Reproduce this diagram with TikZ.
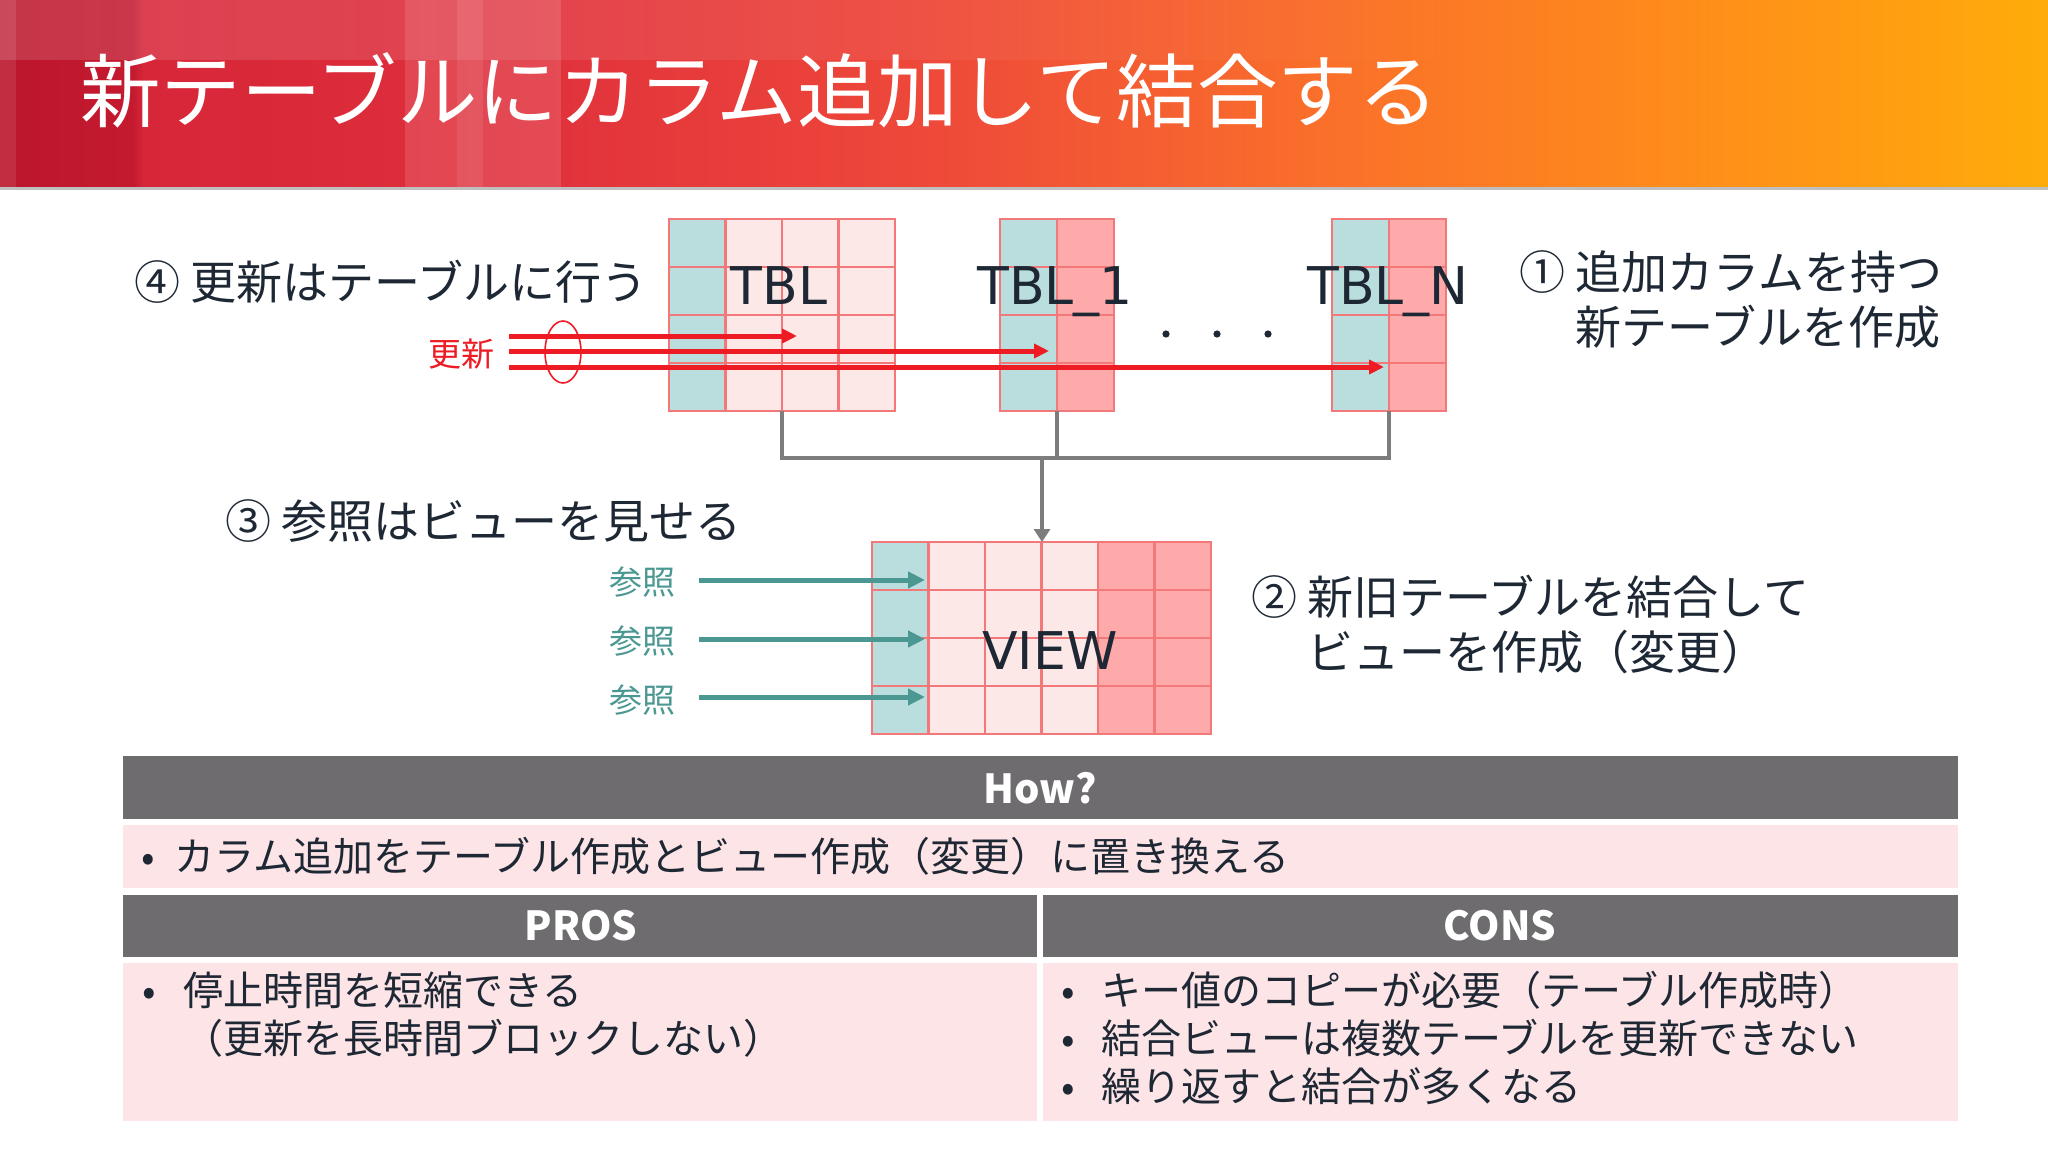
\documentclass[tikz,border=0pt]{standalone}
\usepackage{fontspec}
\setmainfont{Noto Sans CJK JP}
\newfontfamily\latf{DejaVu Sans}
\usetikzlibrary{arrows.meta,calc,shapes.geometric,fadings}
\definecolor{txt}{RGB}{30,40,52}
\definecolor{tealc}{RGB}{186,222,221}
\definecolor{pinkl}{RGB}{253,232,232}
\definecolor{pinkm}{RGB}{255,170,170}
\definecolor{gridc}{RGB}{243,120,122}
\definecolor{tblbg}{RGB}{253,228,230}
\definecolor{hdr}{RGB}{110,108,111}
\definecolor{redc}{RGB}{237,28,36}
\definecolor{tealt}{RGB}{75,152,147}
\definecolor{grayc}{RGB}{125,125,125}
\definecolor{tg0}{RGB}{188,22,44}
\definecolor{tg1}{RGB}{196,26,48}
\definecolor{tg2}{RGB}{214,38,56}
\definecolor{tg3}{RGB}{224,48,60}
\definecolor{tg4}{RGB}{238,72,58}
\definecolor{tg5}{RGB}{250,112,42}
\definecolor{tg6}{RGB}{255,145,24}
\definecolor{tg7}{RGB}{255,172,10}
\pgfdeclarehorizontalshading{titlegrad}{100bp}{color(0bp)=(tg0); color(25bp)=(tg0); color(28.25bp)=(tg1); color(28.5bp)=(tg2); color(37.5bp)=(tg3); color(47.5bp)=(tg4); color(57.5bp)=(tg5); color(67.5bp)=(tg6); color(75bp)=(tg7); color(100bp)=(tg7)}
\tikzset{
  box/.style={inner sep=0pt, outer sep=0pt, draw=none},
  gridln/.style={draw=gridc, line width=2.5pt},
  lbl/.style={text=txt, inner sep=0pt, font=\fontsize{46}{55}\selectfont},
  lat/.style={text=txt, inner sep=0pt, anchor=base, font=\latf\fontsize{52}{60}\selectfont},
  small/.style={inner sep=0pt, font=\fontsize{33}{40}\selectfont},
  tb/.style={text=txt, inner sep=0pt, font=\fontsize{40}{47.5}\selectfont},
  hd/.style={text=white, inner sep=0pt, font=\bfseries\fontsize{40}{48}\selectfont},
  conn/.style={draw=grayc, line width=4pt},
  redarr/.style={draw=redc, line width=5pt, -{Triangle[length=15pt,width=14pt]}},
  tealarr/.style={draw=tealt, line width=5pt, -{Triangle[length=17pt,width=16pt]}}
}
\begin{document}
\begin{tikzpicture}[x=1pt,y=-1pt]
\useasboundingbox (0,0) rectangle (2048,1152);
\fill[white] (0,0) rectangle (2048,1152);
% title bar
\shade[shading=titlegrad] (0,0) rectangle (2048,187);
\fill[white, fill opacity=0.14, path fading=east] (0,0) rectangle (1500,60);
\fill[white, fill opacity=0.12] (405,0) rectangle (561,187);
\fill[white, fill opacity=0.08] (457,0) rectangle (483,187);
\fill[white, fill opacity=0.10] (0,0) rectangle (16,187);
\fill[black!25] (0,187) rectangle (2048,190);
\node[box, anchor=west, text=white, font=\fontsize{80.5}{80}\selectfont] (title) at (80,90) {新テーブルにカラム追加して結合する};

% TBL
\begin{scope}[shift={(669,219)}]
  \fill[tealc] (0,0) rectangle (56.5,192);
  \fill[pinkl] (56.5,0) rectangle (226,192);
  \foreach \x in {56.5,113,169.5} \draw[gridln] (\x,0) -- (\x,192);
  \foreach \y in {48,96,144} \draw[gridln] (0,\y) -- (226,\y);
  \draw[gridln] (0,0) rectangle (226,192);
\end{scope}
\node[box, minimum width=226, minimum height=192, anchor=north west] (tbl) at (669,219) {};
% TBL_1
\begin{scope}[shift={(1000,219)}]
  \fill[tealc] (0,0) rectangle (57,192);
  \fill[pinkm] (57,0) rectangle (114,192);
  \draw[gridln] (57,0) -- (57,192);
  \foreach \y in {48,96,144} \draw[gridln] (0,\y) -- (114,\y);
  \draw[gridln] (0,0) rectangle (114,192);
\end{scope}
\node[box, minimum width=114, minimum height=192, anchor=north west] (tbl1) at (1000,219) {};
% TBL_N
\begin{scope}[shift={(1332,219)}]
  \fill[tealc] (0,0) rectangle (57,192);
  \fill[pinkm] (57,0) rectangle (114,192);
  \draw[gridln] (57,0) -- (57,192);
  \foreach \y in {48,96,144} \draw[gridln] (0,\y) -- (114,\y);
  \draw[gridln] (0,0) rectangle (114,192);
\end{scope}
\node[box, minimum width=114, minimum height=192, anchor=north west] (tbln) at (1332,219) {};
% VIEW
\begin{scope}[shift={(872,542)}]
  \fill[tealc] (0,0) rectangle (56.5,192);
  \fill[pinkl] (56.5,0) rectangle (226,192);
  \fill[pinkm] (226,0) rectangle (339,192);
  \foreach \x in {56.5,113,169.5,226,282.5} \draw[gridln] (\x,0) -- (\x,192);
  \foreach \y in {48,96,144} \draw[gridln] (0,\y) -- (339,\y);
  \draw[gridln] (0,0) rectangle (339,192);
\end{scope}
\node[box, minimum width=339, minimum height=192, anchor=north west] (view) at (872,542) {};

% table labels
\node[lat] (tbllbl) at (779,304) {TBL};
\node[lat] (tbl1lbl) at (1055,304) {TBL\_1};
\node[lat] (tblnlbl) at (1388,304) {TBL\_N};
\node[lat] (viewlbl) at (1050,669) {VIEW};
\fill[txt] (1166,334) circle (3.6) (1217,334) circle (3.6) (1268,334) circle (3.6);

% connectors to view
\coordinate (j) at (1042,458);
\draw[conn] (tbl.south) |- (tbln.south |- j) -- (tbln.south);
\draw[conn] (tbl1.south) -- (tbl1.south |- j);
\draw[conn, -{Triangle[length=13pt,width=16pt]}] (j) -- (j |- view.north);

% update arrows
\node[small, text=redc, anchor=east] (updlbl) at (495,354) {更新};
\coordinate (r1s) at (509,336); \coordinate (r1e) at (797,336);
\coordinate (r2s) at (509,351); \coordinate (r2e) at (1049,351);
\coordinate (r3s) at (509,367); \coordinate (r3e) at (1384,367);
\draw[redarr] (r1s) -- (r1e);
\draw[redarr] (r2s) -- (r2e);
\draw[redarr] (r3s) -- (r3e);
\node[ellipse, draw=redc, line width=1.6pt, minimum width=36, minimum height=62, inner sep=0pt] (oval) at (563,352) {};

% reference arrows
\node[small, text=tealt, anchor=east] (ref1) at (676,582) {参照};
\node[small, text=tealt, anchor=east] (ref2) at (676,641) {参照};
\node[small, text=tealt, anchor=east] (ref3) at (676,700) {参照};
\coordinate (t1s) at (699,580); \coordinate (t1e) at (925,580);
\coordinate (t2s) at (699,639); \coordinate (t2e) at (925,639);
\coordinate (t3s) at (699,697); \coordinate (t3e) at (925,697);
\draw[tealarr] (t1s) -- (t1e);
\draw[tealarr] (t2s) -- (t2e);
\draw[tealarr] (t3s) -- (t3e);

% step labels
\node[lbl, anchor=west] (s4) at (134,282) {④ 更新はテーブルに行う};
\node[lbl, anchor=west] (s3) at (225,521) {③ 参照はビューを見せる};
\node[lbl, anchor=base west] (s1) at (1519,289) {\begin{tabular}[t]{@{}l@{}}① 追加カラムを持つ\\\phantom{① }新テーブルを作成\end{tabular}};
\node[lbl, anchor=base west] (s2) at (1251,614) {\begin{tabular}[t]{@{}l@{}}② 新旧テーブルを結合して\\\phantom{② }ビューを作成（変更）\end{tabular}};

% bottom table
\fill[hdr] (123,756) rectangle (1958,819);
\fill[tblbg] (123,825) rectangle (1958,888);
\fill[hdr] (123,895) rectangle (1037,957);
\fill[hdr] (1043,895) rectangle (1958,957);
\fill[tblbg] (123,963) rectangle (1037,1121);
\fill[tblbg] (1043,963) rectangle (1958,1121);
\node[hd] (how) at (1040,788) {How?};
\node[hd] (pros) at (581,926) {PROS};
\node[hd] (cons) at (1500,926) {CONS};
\node[tb, anchor=west] (howtxt) at (148,856) {\makebox[0pt][c]{•}\hspace{26pt}カラム追加をテーブル作成とビュー作成（変更）に置き換える};
\node[tb, anchor=base west] (prostxt) at (149,1005) {\begin{tabular}[t]{@{}l@{}}\makebox[0pt][c]{•}\hspace{34pt}停止時間を短縮できる\\\hspace{34pt}（更新を長時間ブロックしない）\end{tabular}};
\node[tb, anchor=base west] (constxt) at (1068,1005) {\begin{tabular}[t]{@{}l@{}}\makebox[0pt][c]{•}\hspace{33pt}キー値のコピーが必要（テーブル作成時）\\\makebox[0pt][c]{•}\hspace{33pt}結合ビューは複数テーブルを更新できない\\\makebox[0pt][c]{•}\hspace{33pt}繰り返すと結合が多くなる\end{tabular}};
\end{tikzpicture}
\end{document}
